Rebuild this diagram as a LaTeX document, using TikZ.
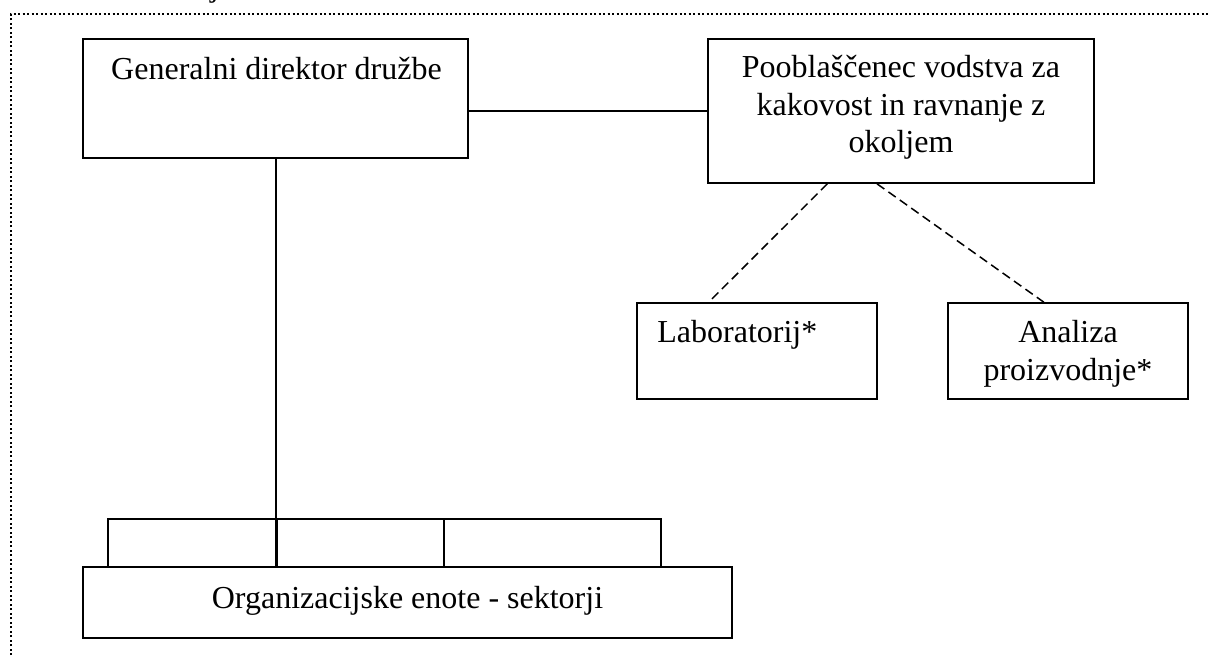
\documentclass[tikz,border=0pt]{standalone}
\usepackage{fontspec}
\setmainfont{Liberation Serif}
\usetikzlibrary{calc}

\begin{document}
\begin{tikzpicture} [x = 0.5pt, y = -0.5pt,
    box/.style = {draw, line width=0.8pt, inner sep=0pt},
    txt/.style = {font=\fontsize{16}{18.75}\selectfont, inner sep=0pt},
    link/.style = {line width=0.75pt},
    dashlink/.style = {line width=0.75pt, dash pattern=on 4.5pt off 2.5pt}]
      \useasboundingbox (0,0) rectangle (1209,657);

      % 外枠
      \draw [line width=1pt, dash pattern=on 1pt off 1.25pt](11,700)--(11,14)--(1260,14);
      \node [txt, anchor=base west] (jfrag) at (210,-3) {j};

      % 箱
      \node [box, minimum width=192.5pt, minimum height=59.5pt] (gd) at (275.5,98.5) {};
      \node [box, minimum width=193pt, minimum height=72pt] (poob) at (901,111) {};
      \node [box, minimum width=120pt, minimum height=48pt] (lab) at (757,351) {};
      \node [box, minimum width=120pt, minimum height=48pt] (ana) at (1068,351) {};
      \node [box, minimum width=84.5pt, minimum height=24pt] (sek1) at (192.5,543) {};
      \node [box, minimum width=83.5pt, minimum height=24pt] (sek2) at (360.5,543) {};
      \node [box, minimum width=108.5pt, minimum height=24pt] (sek3) at (552.5,543) {};
      \node [box, minimum width=324.5pt, minimum height=35.5pt] (org) at (407.5,602.5) {};

      % 文字 (複数行はbase = 最終行)
      \node [txt, anchor=base] (gdtext) at (276.5,80) {Generalni direktor družbe};
      \node [txt, anchor=base, align=center] (poobtext) at (901,153) {Pooblaščenec vodstva za\\kakovost in ravnanje z\\okoljem};
      \node [txt, anchor=base west] (labtext) at (657,343) {Laboratorij*};
      \node [txt, anchor=base, align=center] (anatext) at (1068,380) {Analiza\\proizvodnje*};
      \node [txt, anchor=base] (orgtext) at (407.5,608) {Organizacijske enote - sektorji};

      % 接続線
      \draw [link](gd.east |- poob.west)--(poob.west);
      \draw [link](sek2.west |- gd.south)--(sek2.south west);
      \draw [dashlink]($(poob.south west)!0.31!(poob.south east)$)--($(lab.north west)!0.3!(lab.north east)$);
      \draw [dashlink]($(poob.south west)!0.438!(poob.south east)$)--($(ana.north west)!0.4!(ana.north east)$);
    \end{tikzpicture}
\end{document}
